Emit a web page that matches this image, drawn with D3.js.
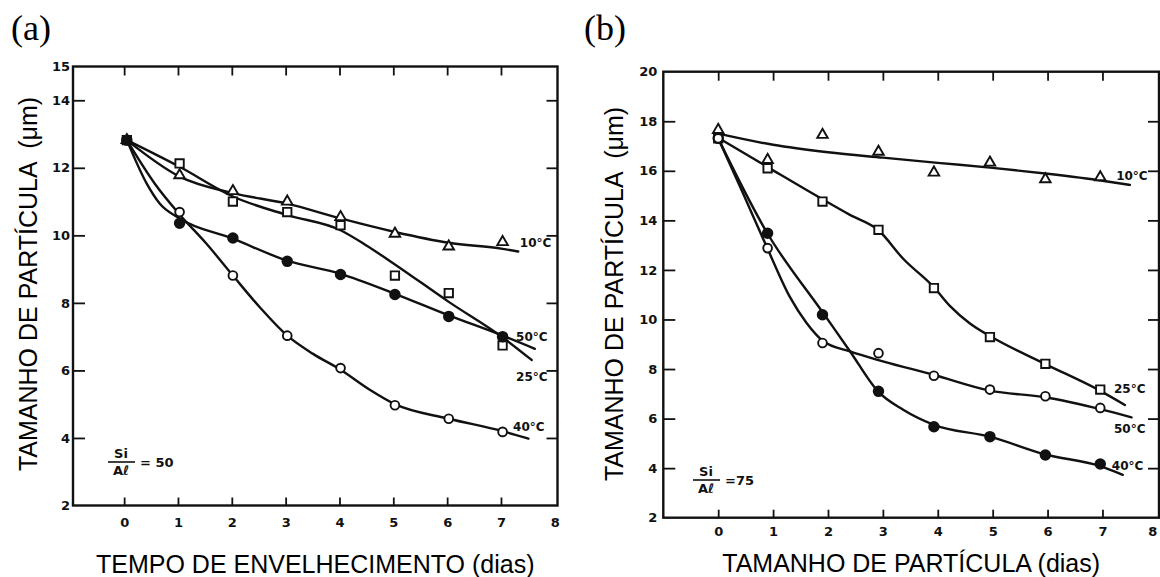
<!DOCTYPE html>
<html><head><meta charset="utf-8">
<script src="https://cdn.jsdelivr.net/npm/d3@7"></script>
<style>body{margin:0;background:#fff} svg{display:block}</style>
</head><body>
<svg id="c" width="1160" height="577"></svg>
<script>
// ---------- data ----------
const xTickLabels = [0,1,2,3,4,5,6,7,8];
const xTickMarks  = [0,1,2,3,4,5,6,7];
const seriesNames = ["10°C","25°C","40°C","50°C"];

// Panel (a)  Si/Al = 50
const yLabelsA = [2,4,6,8,10,12,14,15];
const yTicksA  = [4,6,8,10,12,14];
const daysA = [0.05,1.03,2.02,3.03,4.02,5.03,6.03,7.03];
const a10 = [12.82,11.78,11.31,11.0,10.54,10.05,9.67,9.8];
const a25 = [12.82,12.13,11.0,10.69,10.3,8.81,8.29,6.74];
const a40 = [12.82,10.69,8.81,7.03,6.07,4.97,4.57,4.18];
const a50 = [12.82,10.36,9.92,9.23,8.84,8.25,7.6,7.0];
const a10Curve = [[0.05,12.82],[1.03,11.74],[2.02,11.25],[3.03,10.94],[4.02,10.5],[5.03,10.1],[6.03,9.78],[7.03,9.6],[7.32,9.52]];
const a25Curve = [[0.05,12.82],[1.03,12.03],[2.02,11.15],[3.03,10.6],[4.02,10.15],[4.5,9.7],[5.03,9.14],[6.03,8.03],[7.03,6.98],[7.57,6.31]];
const a40Curve = [[0.05,12.82],[0.57,11.53],[1.03,10.62],[1.53,9.75],[2.02,8.81],[2.52,7.87],[3.03,7.03],[3.51,6.49],[4.02,6.02],[4.57,5.42],[5.03,5.0],[6.03,4.57],[7.03,4.2],[7.51,3.98]];
const a50Curve = [[0.05,12.82],[0.42,11.53],[0.66,10.94],[1.03,10.5],[2.02,9.9],[3.03,9.25],[4.02,8.86],[5.03,8.27],[6.03,7.63],[7.03,7.03],[7.63,6.64]];
const labelPosA = [[7.35,9.78],[7.28,5.83],[7.225,4.35],[7.28,7.0]];

// Panel (b)  Si/Al = 75
const yLabelsB = [2,4,6,8,10,12,14,16,18,20];
const yTicksB  = [4,6,8,10,12,14,16,18];
const daysB = [0,0.9,1.9,2.92,3.93,4.95,5.96,6.96];
const b10 = [17.65,16.44,17.45,16.77,15.93,16.33,15.66,15.74];
const b25 = [17.31,16.1,14.76,13.62,11.27,9.29,8.21,7.17];
const b40 = [17.31,13.48,10.19,7.1,5.67,5.27,4.53,4.17];
const b50 = [17.31,12.88,9.05,8.64,7.73,7.17,6.9,6.43];
const b10Curve = [[0,17.5],[1,17.05],[2,16.75],[3,16.53],[4,16.32],[5,16.12],[6,15.88],[7,15.6],[7.5,15.43]];
const b25Curve = [[0,17.33],[0.9,16.15],[1.9,14.85],[2.4,14.22],[2.92,13.6],[3.37,12.45],[3.93,11.3],[4.22,10.55],[4.58,9.85],[4.95,9.33],[5.96,8.2],[6.96,7.12],[7.41,6.55]];
const b40Curve = [[0,17.31],[0.89,13.5],[1.9,10.3],[2.4,8.72],[2.91,7.1],[3.37,6.36],[3.93,5.75],[4.95,5.27],[5.96,4.55],[6.96,4.08],[7.37,3.73]];
const b50Curve = [[0,17.31],[0.45,15.1],[0.9,12.85],[1.3,10.93],[1.61,9.86],[1.91,9.13],[2.4,8.71],[3.0,8.31],[3.92,7.77],[4.95,7.13],[5.96,6.86],[6.96,6.38],[7.53,6.05]];
const labelPosB = [[7.25,15.83],[7.21,7.21],[7.17,4.12],[7.21,5.59]];

// ---------- drawing ----------
const svg = d3.select("#c");
const INK = "#111";
const numFont = "'DejaVu Sans', sans-serif";
const titleFont = "'Liberation Sans', Arial, sans-serif";

const SYM = {
  tri:    {type: d3.symbolTriangle, size: 48, fill: "#fff"},
  square: {type: d3.symbolSquare,   size: 70, fill: "#fff"},
  open:   {type: d3.symbolCircle,   size: 60, fill: "#fff"},
  filled: {type: d3.symbolCircle,   size: 72, fill: INK}
};

function drawPanel(p) {
  const x = d3.scaleLinear().domain(p.xDomain).range(p.xRange);
  const y = d3.scaleLinear().domain(p.yDomain).range(p.yRange);
  const g = svg.append("g");
  const [x0, x1] = p.xRange, [yb, yt] = p.yRange;

  const styleAxis = sel => {
    sel.select(".domain").remove();
    sel.attr("font-family", numFont).attr("font-size", 13).attr("font-weight", "bold");
    sel.selectAll("line").attr("stroke", INK).attr("stroke-width", 1.8);
    sel.selectAll("text").attr("fill", INK);
  };

  // left axis (labels + inward ticks)
  const gl = g.append("g").attr("transform", `translate(${x0},0)`)
    .call(d3.axisLeft(y).tickValues(p.yLabels).tickSize(-12).tickPadding(p.yPad).tickFormat(d3.format("d")));
  styleAxis(gl);
  gl.selectAll(".tick").filter(d => !p.yTicks.includes(d)).select("line").remove();

  // right axis ticks
  const gr = g.append("g").attr("transform", `translate(${x1},0)`)
    .call(d3.axisRight(y).tickValues(p.yTicks).tickSize(-11).tickFormat(""));
  styleAxis(gr);

  // bottom axis
  const gb = g.append("g").attr("transform", `translate(0,${yb})`)
    .call(d3.axisBottom(x).tickValues(xTickLabels).tickSize(-8).tickPadding(p.xPad).tickFormat(d3.format("d")));
  styleAxis(gb);
  gb.selectAll(".tick").filter(d => !xTickMarks.includes(d)).select("line").remove();
  gb.selectAll(".tick").filter(d => d === 8).select("text").attr("dx", p.lastLabelShift);

  // top axis ticks
  const gt = g.append("g").attr("transform", `translate(0,${yt})`)
    .call(d3.axisTop(x).tickValues(xTickMarks).tickSize(-9).tickFormat(""));
  styleAxis(gt);

  // frame
  g.append("rect").attr("x", x0).attr("y", yt).attr("width", x1 - x0).attr("height", yb - yt)
    .attr("fill", "none").attr("stroke", INK).attr("stroke-width", 2.4);

  // curves
  const line = d3.line().x(d => x(d[0])).y(d => y(d[1])).curve(d3.curveMonotoneX);
  p.curves.forEach(c => {
    g.append("path").datum(c).attr("d", line).attr("fill", "none")
      .attr("stroke", INK).attr("stroke-width", 2.4).attr("stroke-linecap", "round");
  });

  // markers
  p.series.forEach((vals, i) => {
    const s = SYM[p.symbols[i]];
    g.append("g").selectAll("path").data(vals.map((v, k) => [p.days[k], v])).join("path")
      .attr("transform", d => `translate(${x(d[0])},${y(d[1])})`)
      .attr("d", d3.symbol().type(s.type).size(s.size))
      .attr("fill", s.fill).attr("stroke", INK).attr("stroke-width", 1.9);
  });

  // series labels
  g.append("g").selectAll("text").data(p.labelPos).join("text")
    .attr("x", d => x(d[0])).attr("y", d => y(d[1]) + 4.5)
    .attr("font-family", numFont).attr("font-size", 12).attr("font-weight", "bold").attr("fill", INK)
    .text((d, i) => seriesNames[i]);

  // Si/Al ratio annotation
  const ra = g.append("g").attr("transform", `translate(${p.ratioPos[0]},${p.ratioPos[1]})`)
    .attr("font-family", numFont).attr("font-size", 13).attr("font-weight", "bold").attr("fill", INK);
  ra.append("text").attr("x", 13).attr("y", -4).attr("text-anchor", "middle").text("Si");
  ra.append("line").attr("x1", 0).attr("x2", 27).attr("y1", 0).attr("y2", 0).attr("stroke", INK).attr("stroke-width", 1.6);
  ra.append("text").attr("x", 13).attr("y", 13).attr("text-anchor", "middle").text("Aℓ");
  ra.append("text").attr("x", 32).attr("y", 5).text(p.ratioText);

  // axis titles
  g.append("text").attr("x", (x0 + x1) / 2).attr("y", p.xTitleY).attr("text-anchor", "middle")
    .attr("font-family", titleFont).attr("font-size", 25).attr("fill", "#000").text(p.xTitle);
  g.append("text").attr("transform", `translate(${p.yTitlePos[0]},${p.yTitlePos[1]}) rotate(-90)`)
    .attr("text-anchor", "middle").style("white-space", "pre")
    .attr("font-family", titleFont).attr("font-size", 25).attr("fill", "#000").text("TAMANHO DE PARTÍCULA  (μm)");

  // panel letter
  g.append("text").attr("x", p.letterPos[0]).attr("y", p.letterPos[1])
    .attr("font-family", "'Liberation Serif', 'Times New Roman', serif").attr("font-size", 36).attr("fill", "#000")
    .text(p.letter);
}

drawPanel({
  xDomain: [-0.95, 8.05], xRange: [73, 557.5],
  yDomain: [2, 15], yRange: [505.5, 66.5],
  yLabels: yLabelsA, yTicks: yTicksA, yPad: 3, xPad: 12, lastLabelShift: 0,
  days: daysA, series: [a10, a25, a40, a50], symbols: ["tri", "square", "open", "filled"],
  curves: [a10Curve, a25Curve, a40Curve, a50Curve],
  labelPos: labelPosA,
  ratioPos: [108, 462], ratioText: "= 50",
  xTitle: "TEMPO DE ENVELHECIMENTO (dias)", xTitleY: 573,
  yTitlePos: [36.5, 284], letter: "(a)", letterPos: [11, 40]
});

drawPanel({
  xDomain: [-1, 8.03], xRange: [663.3, 1159],
  yDomain: [2, 20], yRange: [517.7, 71.7],
  yLabels: yLabelsB, yTicks: yTicksB, yPad: 6, xPad: 9, lastLabelShift: -5,
  days: daysB, series: [b10, b25, b40, b50], symbols: ["tri", "square", "filled", "open"],
  curves: [b10Curve, b25Curve, b40Curve, b50Curve],
  labelPos: labelPosB,
  ratioPos: [693, 480], ratioText: "=75",
  xTitle: "TAMANHO DE PARTÍCULA (dias)", xTitleY: 572,
  yTitlePos: [623, 294], letter: "(b)", letterPos: [584, 40]
});
</script>
</body></html>
